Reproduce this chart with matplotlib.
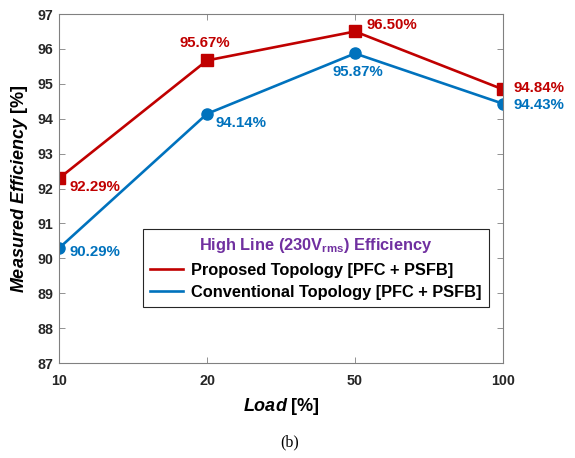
import numpy as np
import matplotlib.pyplot as plt
from matplotlib.lines import Line2D

plt.rcParams['font.family'] = ['Liberation Sans', 'DejaVu Sans']
plt.rcParams['font.weight'] = 'bold'
plt.rcParams['mathtext.fontset'] = 'custom'
plt.rcParams['mathtext.rm'] = 'Liberation Sans:bold'
plt.rcParams['mathtext.it'] = 'Liberation Sans:bold:italic'
plt.rcParams['mathtext.bf'] = 'Liberation Sans:bold'

load_labels = ['10', '20', '50', '100']
proposed = [92.29, 95.67, 96.50, 94.84]
conventional = [90.29, 94.14, 95.87, 94.43]

red = '#C00000'
blue = '#0072BD'

fig = plt.figure(figsize=(5.75, 4.58), dpi=100)
ax = fig.add_axes([0.1026, 0.2074, 0.7722, 0.762])

x = np.arange(len(load_labels))
ax.plot(x, proposed, color=red, lw=1.9, marker='s', ms=8.5)
ax.plot(x, conventional, color=blue, lw=1.9, marker='o', ms=8)

# label offsets in pixels (dx, dy, ha)
red_off = [(11, -9, 'left'), (-2, 17, 'center'), (11, 6, 'left'), (10, 1, 'left')]
blue_off = [(11, -4, 'left'), (9, -9, 'left'), (3, -19, 'center'), (10, -1, 'left')]
for i in range(len(x)):
    dx, dy, ha = red_off[i]
    ax.annotate('%.2f%%' % proposed[i], (x[i], proposed[i]), xytext=(dx, dy),
                textcoords='offset pixels', ha=ha, va='center',
                color=red, fontsize=10.8, fontweight='bold', annotation_clip=False)
    dx, dy, ha = blue_off[i]
    ax.annotate('%.2f%%' % conventional[i], (x[i], conventional[i]), xytext=(dx, dy),
                textcoords='offset pixels', ha=ha, va='center',
                color=blue, fontsize=10.8, fontweight='bold', annotation_clip=False)

ax.set_xlim(0, 3)
ax.set_ylim(87, 97)
ax.set_xticks(x)
ax.set_xticklabels(load_labels)
ax.set_yticks(np.arange(87, 98, 1))
ax.tick_params(direction='in', top=True, right=True, labelsize=10.3,
               color='#808080', labelcolor='#262626', length=4, width=0.6)
ax.tick_params(axis='x', pad=8)
ax.tick_params(axis='y', pad=4)
for s in ax.spines.values():
    s.set_color('#808080')
    s.set_linewidth(0.8)

ax.set_xlabel(r'$\mathit{Load}$ [%]', fontsize=13, fontweight='bold', labelpad=6)
ax.set_ylabel(r'$\mathit{Measured\ Efficiency}$ [%]', fontsize=13,
              fontweight='bold', labelpad=5)

handles = [Line2D([], [], color=red, lw=1.9), Line2D([], [], color=blue, lw=1.9)]
labels = ['Proposed Topology [PFC + PSFB]', 'Conventional Topology [PFC + PSFB]']
leg = ax.legend(handles, labels, loc='upper center', bbox_to_anchor=(0.579, 0.384),
                title=r'High Line (230V$_{\mathregular{rms}}$) Efficiency',
                fontsize=11.8, title_fontsize=11.8, fancybox=False,
                edgecolor='#262626', framealpha=1, handlelength=2.0,
                handletextpad=0.5, borderpad=0.45, labelspacing=0.45,
                borderaxespad=0)
leg.get_title().set_color('#7030A0')
leg.get_title().set_fontweight('bold')
leg.get_frame().set_linewidth(0.8)

fig.text(0.503, 0.033, '(b)', family='Liberation Serif', fontweight='normal',
         fontsize=11.5, ha='center', va='center')

fig.savefig('out.png', dpi=100)
